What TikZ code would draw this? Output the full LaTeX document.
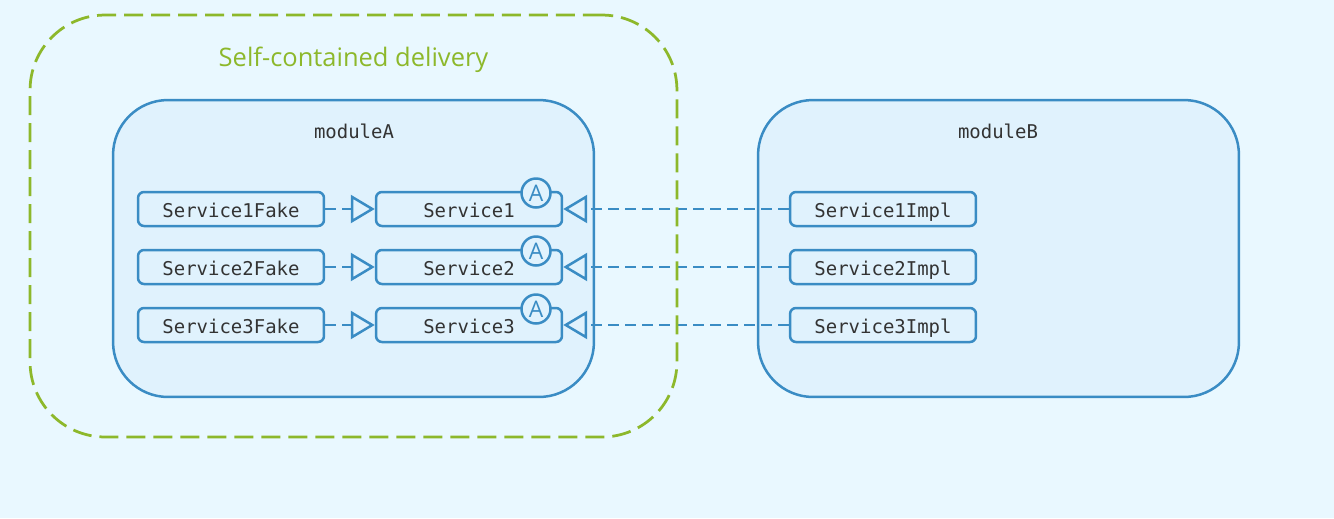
\documentclass[tikz,border=0pt]{standalone}
\usepackage{fontspec}
\setmainfont{Open Sans}
\setmonofont{DejaVu Sans Mono}
\usetikzlibrary{arrows.meta}
\definecolor{pagebg}{HTML}{E9F8FF}
\definecolor{modulebg}{HTML}{E0F2FD}
\definecolor{edgeblue}{HTML}{3A8CC4}
\definecolor{groupgreen}{HTML}{8DB82B}
\definecolor{labelgray}{HTML}{333333}
\tikzset{
  modulebox/.style={draw=edgeblue, fill=modulebg, line width=0.05cm, rounded corners=1.1cm,
    minimum width=9.62cm, minimum height=5.94cm, inner sep=0pt},
  groupbox/.style={draw=groupgreen, line width=0.055cm, rounded corners=1.5cm,
    dash pattern=on 0.38cm off 0.16cm, minimum width=12.94cm, minimum height=8.44cm, inner sep=0pt},
  servicebox/.style={draw=edgeblue, fill=modulebg, line width=0.05cm, rounded corners=0.12cm,
    minimum width=3.72cm, minimum height=0.68cm, inner sep=0pt, text=labelgray,
    text height=0.32cm, text depth=0cm, font=\ttfamily\fontsize{10.8}{13}\selectfont},
  modulelabel/.style={text=labelgray, font=\ttfamily\fontsize{10.8}{13}\selectfont},
  badge/.style={draw=edgeblue, fill=modulebg, circle, line width=0.05cm, minimum size=0.58cm, inner sep=0pt,
    text=edgeblue, font=\fontsize{13}{15}\selectfont},
  realizes/.style={draw=edgeblue, line width=0.05cm, dash pattern=on 0.22cm off 0.12cm,
    -{Triangle[open, length=0.48cm, width=0.56cm]}},
}
\begin{document}
\begin{tikzpicture}[x=0.02cm, y=-0.02cm]
  \useasboundingbox (0,0) rectangle (1334,518);
  \fill[pagebg] (0,0) rectangle (1334,518);
  \node[modulebox] (moduleA) at (353.5,248.5) {};
  \node[modulebox] (moduleB) at (998.5,248.5) {};
  \node[modulelabel] (labelA) at (354,131.5) {moduleA};
  \node[modulelabel] (labelB) at (998,131.5) {moduleB};
  \foreach \i/\y in {1/209,2/267,3/325} {
    \node[servicebox] (fake\i) at (231,\y) {Service\i Fake};
    \node[servicebox] (service\i) at (469,\y) {Service\i};
    \node[servicebox] (impl\i) at (883,\y) {Service\i Impl};
    \node[badge] (badge\i) at (536,\y-16) {A};
    \draw[realizes] (fake\i) -- (service\i);
    \draw[realizes] (impl\i) -- (service\i);
  }
  \node[groupbox] (group) at (353.5,226) {};
  \node[text=groupgreen, font=\fontsize{14.5}{17}\selectfont] (grouptitle) at (353.5,60) {Self-contained delivery};
\end{tikzpicture}
\end{document}
